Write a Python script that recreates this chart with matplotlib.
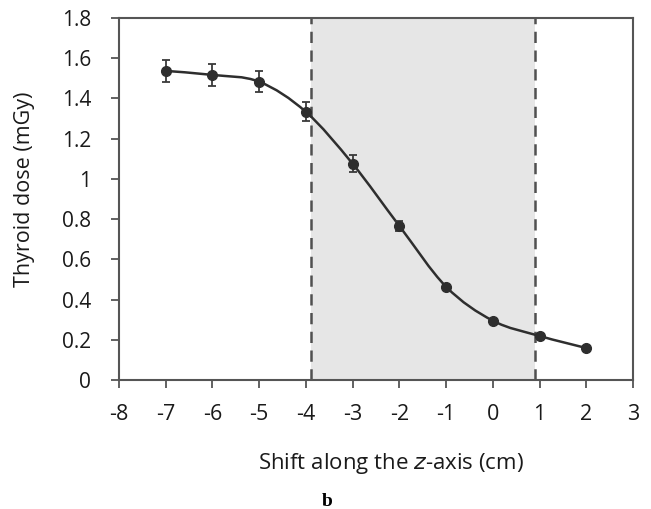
import numpy as np
import matplotlib
matplotlib.use("Agg")
import matplotlib.pyplot as plt
from matplotlib.path import Path
from matplotlib.patches import PathPatch

# data
shift = [-7, -6, -5, -4, -3, -2, -1, 0, 1, 2]
dose = [1.537, 1.517, 1.483, 1.333, 1.075, 0.766, 0.464, 0.295, 0.219, 0.159]
err = [0.055, 0.053, 0.052, 0.047, 0.042, 0.025, 0.0, 0.0, 0.0, 0.0]
band = [-3.9, 0.9]
xticks = list(range(-8, 4))
yticks = [0, 0.2, 0.4, 0.6, 0.8, 1, 1.2, 1.4, 1.6, 1.8]
ylabels = ['0', '0.2', '0.4', '0.6', '0.8', '1', '1.2', '1.4', '1.6', '1.8']

plt.rcParams['font.family'] = ['Open Sans', 'DejaVu Sans']

fig = plt.figure(figsize=(6.51, 5.09), dpi=100)
ax = fig.add_axes([119/651, 1-380/509, (633-119)/651, (380-18)/509])

# shaded band + dashed borders
ax.axvspan(band[0], band[1], color='#e6e6e6', lw=0, zorder=0)
for b in band:
    ax.axvline(b, color='#505050', lw=1.8, ls=(0, (4.5, 3)), zorder=1)

# smoothed line like excel (bezier segments through the points)
pts = np.column_stack([shift, dose])
n = len(pts)
verts = [pts[0]]
codes = [Path.MOVETO]
for i in range(n - 1):
    p0 = pts[max(i - 1, 0)]
    p1 = pts[i]
    p2 = pts[i + 1]
    p3 = pts[min(i + 2, n - 1)]
    c1 = p1 + (p2 - p0) / 6
    c2 = p2 - (p3 - p1) / 6
    verts += [c1, c2, p2]
    codes += [Path.CURVE4] * 3
ax.add_patch(PathPatch(Path(verts, codes), fill=False, ec='#2e2e2e', lw=1.8, zorder=3))

ax.errorbar(shift, dose, yerr=err, fmt='o', color='#2e2e2e', ms=7,
            ecolor='#3a3a3a', elinewidth=1.3, capsize=3, capthick=1.3, zorder=4)

ax.set_xlim(-8, 3)
ax.set_ylim(0, 1.8)
ax.set_xticks(xticks)
ax.set_xticklabels([str(t) for t in xticks])
ax.set_yticks(yticks)
ax.set_yticklabels(ylabels)
ax.tick_params(axis='x', direction='out', length=5.5, width=1.3, color='#555555',
               pad=12, labelsize=15.5, labelcolor='#1a1a1a')
ax.tick_params(axis='y', direction='out', length=6, width=1.3, color='#555555',
               pad=14, labelsize=15, labelcolor='#1a1a1a')
for s in ax.spines.values():
    s.set_color('#555555')
    s.set_linewidth(1.5)

fig.text(25/651, 1-189/509, 'Thyroid dose (mGy)', rotation=90, ha='center', va='center',
         fontsize=15.5, color='#1a1a1a')
fig.text(391/651, 1-463/509, 'Shift along the $\\mathit{z}$-axis (cm)', ha='center', va='center',
         fontsize=16, color='#1a1a1a')
fig.text(327/651, 1-501/509, 'b', ha='center', va='center', fontsize=14,
         family='Liberation Serif', weight='bold')

fig.savefig('out.png', dpi=100)
